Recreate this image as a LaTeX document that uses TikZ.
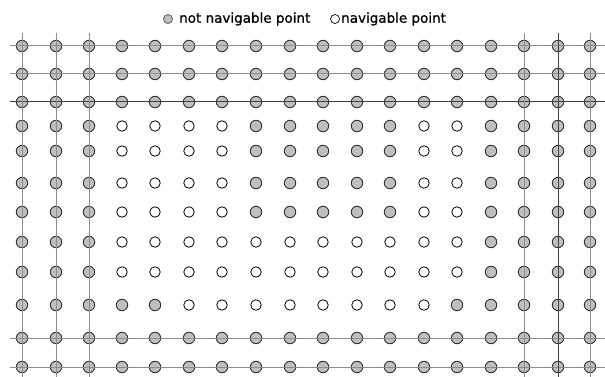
\documentclass[tikz,border=0pt]{standalone}
\usepackage{fontspec}
\setmainfont{DejaVu Sans}
\newfontfamily\legfont{DejaVu Sans}[FakeBold=0.8]
\begin{document}
\begin{tikzpicture}[x=1pt,y=-1pt,
  fullpt/.style={circle,draw=black!80,fill=black!25,line width=0.9pt,minimum size=11.5pt,inner sep=0pt},
  openpt/.style={circle,draw=black,fill=white,line width=0.8pt,minimum size=10.5pt,inner sep=0pt},
  legfull/.style={circle,draw=black!70,fill=black!25,line width=0.7pt,minimum size=9pt,inner sep=0pt},
  legopen/.style={circle,draw=black,fill=white,line width=0.7pt,minimum size=9pt,inner sep=0pt},
  legtext/.style={anchor=west,inner sep=0pt,font=\legfont\fontsize{13.5}{16}\selectfont},
  gridline/.style={draw=black!45,line width=1pt},
  darkline/.style={draw=black!75,line width=1pt}]
\useasboundingbox (0,0) rectangle (605,377);
% legend
\node[legfull] (lf) at (168,19) {};
\node[legtext] (lft) at (179,19) {not navigable point};
\node[legopen] (lo) at (335,19) {};
\node[legtext] (lot) at (341,19) {navigable point};
% points
\foreach \yy [count=\r] in {46,74,102,126,151,183,212,242,272,305,338,367} {
  \foreach \xx [count=\c] in {22,56,89,122,155,189,222,256,290,323,357,390,424,457,491,524,558,590} {
    \pgfmathtruncatemacro\isopen{((\r>=4)&&(\r<=7)&&(((\c>=4)&&(\c<=7))||(\c==13)||(\c==14))) || ((\r>=8)&&(\r<=9)&&(\c>=4)&&(\c<=14)) || ((\r==10)&&(\c>=6)&&(\c<=13))}
    \ifnum\isopen=1
      \node[openpt] (p\r-\c) at (\xx,\yy) {};
    \else
      \node[fullpt] (p\r-\c) at (\xx,\yy) {};
    \fi
  }
}
% horizontal grid lines
\foreach \yy/\st [count=\i] in {46/gridline,74/gridline,102/darkline,338/gridline,367/gridline} {
  \coordinate (hl\i) at (10,\yy);
  \coordinate (hr\i) at (605,\yy);
  \draw[\st] (hl\i) -- (hr\i);
}
% vertical grid lines
\foreach \xx/\st [count=\i] in {22/gridline,56/gridline,89/gridline,524/gridline,558/darkline,590/gridline} {
  \coordinate (vt\i) at (\xx,33);
  \coordinate (vb\i) at (\xx,377);
  \draw[\st] (vt\i) -- (vb\i);
}
\end{tikzpicture}
\end{document}
